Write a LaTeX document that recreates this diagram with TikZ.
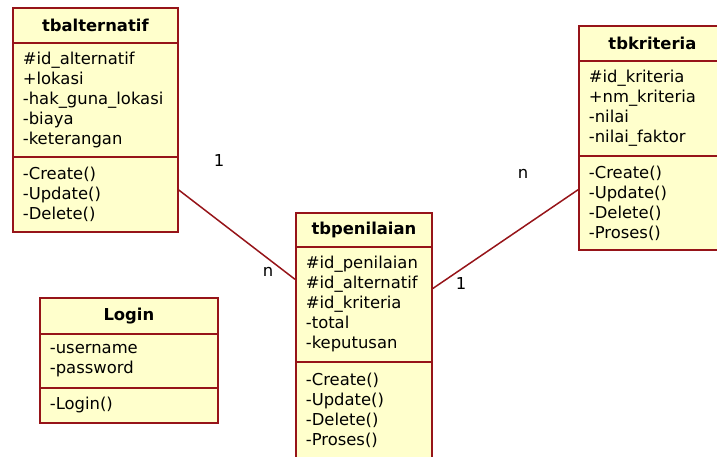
\documentclass[tikz,border=0pt]{standalone}
\usepackage{fontspec}
\setmainfont{DejaVu Sans}
\usetikzlibrary{positioning}
\definecolor{kuning}{RGB}{255,255,204}
\definecolor{merah}{RGB}{150,20,25}
\newcommand\kls[1]{\textbf{#1}}

\begin{document}
\begin{tikzpicture}[x=1pt,y=-1pt,
        every node/.style={font=\fontsize{16.4}{20}\selectfont},
        judul/.style={draw=merah,fill=kuning,line width=1.8pt,anchor=north west,align=center,inner sep=0pt},
        isi/.style={draw=merah,fill=kuning,line width=1.8pt,anchor=north west,align=left,inner xsep=10pt,inner ysep=0pt},
        relasi/.style={draw=merah,line width=1.5pt}]%
        \clip (0,0) rectangle (717,456);%%
        % kelas tbalternatif
        \node[judul,minimum width=165pt,minimum height=35pt] (alt-nm) at (12,7) {\kls{tbalternatif}}; %%
        \node[isi,text width=145pt,minimum height=114pt] (alt-attr) at (12,42) {\#id\_alternatif\\+lokasi\\-hak\_guna\_lokasi\\-biaya\\-keterangan}; %%
        \node[isi,text width=145pt,minimum height=75pt] (alt-ops) at (12,156) {-Create()\\-Update()\\-Delete()}; %%
        % kelas tbpenilaian
        \node[judul,minimum width=136pt,minimum height=34pt] (pen-nm) at (295,212) {\kls{tbpenilaian}}; %%
        \node[isi,text width=116pt,minimum height=115pt] (pen-attr) at (295,246) {\#id\_penilaian\\\#id\_alternatif\\\#id\_kriteria\\-total\\-keputusan}; %%
        \node[isi,text width=116pt,minimum height=97pt] (pen-ops) at (295,361) {-Create()\\-Update()\\-Delete()\\-Proses()}; %%
        % kelas tbkriteria
        \node[judul,minimum width=147pt,minimum height=35pt] (krit-nm) at (578,25) {\kls{tbkriteria}}; %%
        \node[isi,text width=127pt,minimum height=95pt] (krit-attr) at (578,60) {\#id\_kriteria\\+nm\_kriteria\\-nilai\\-nilai\_faktor}; %%
        \node[isi,text width=127pt,minimum height=94pt] (krit-ops) at (578,155) {-Create()\\-Update()\\-Delete()\\-Proses()}; %%
        % kelas Login
        \node[judul,minimum width=178pt,minimum height=36pt] (log-nm) at (39,297) {\kls{Login}}; %%
        \node[isi,text width=158pt,minimum height=54pt] (log-attr) at (39,333) {-username\\-password}; %%
        \node[isi,text width=158pt,minimum height=35pt] (log-ops) at (39,387) {-Login()}; %%
        % relasi dan multiplisitas
        \draw[relasi] (alt-ops.3.8)--(pen-attr.160.2); %%
        \draw[relasi] (pen-attr.13.6)--(krit-ops.170); %%
        \node (m-alt) at (219,161) {1}; %%
        \node (m-pen1) at (268,272) {n}; %%
        \node (m-krit) at (523,174) {n}; %%
        \node (m-pen2) at (461,284) {1}; %%
\end{tikzpicture}
\end{document}
